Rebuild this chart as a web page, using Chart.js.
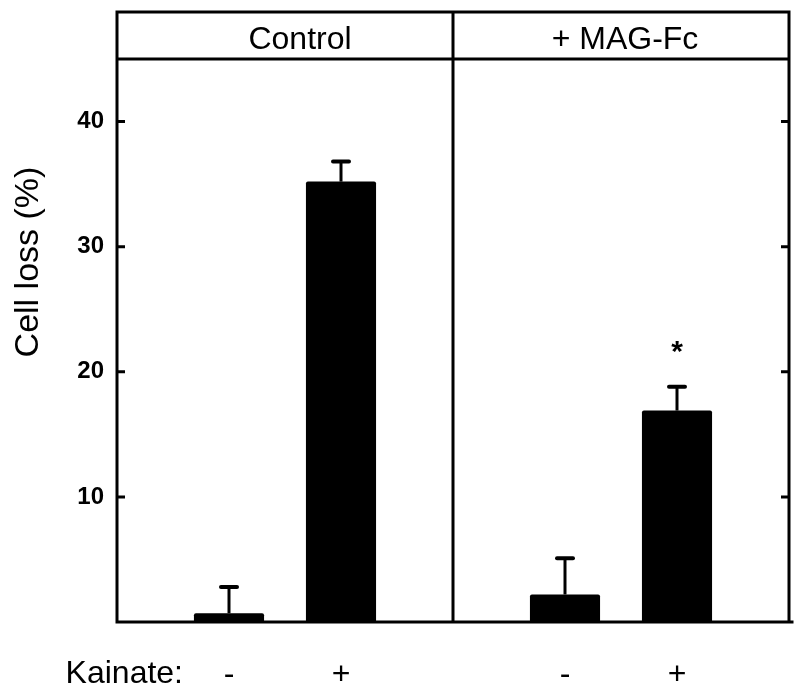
<!DOCTYPE html>
<html><head><meta charset="utf-8">
<script src="https://cdn.jsdelivr.net/npm/chart.js@4/dist/chart.umd.min.js"></script>
<style>html,body{margin:0;padding:0;background:#fff}</style>
</head><body>
<canvas id="c" width="800" height="694"></canvas>
<script>
// ---- data ----
const groups = ['Control', '+ MAG-Fc'];
const kainate = ['-', '+'];
const cellLoss = [0.7, 35.2, 2.2, 16.9];
const sem = [2.1, 1.6, 2.9, 1.9];
const significant = [false, false, false, true];
const yTicks = [10, 20, 30, 40];
const yTitle = 'Cell loss (%)';
const xTitle = 'Kainate:';

// ---- build slots: empty slot, bars of group, empty slot (shared divider) ----
const labels = [''];
const values = [null];
const errs = [null];
const stars = [false];
const dividers = [];
groups.forEach((g, gi) => {
  kainate.forEach((k, ki) => {
    const i = gi * kainate.length + ki;
    labels.push(k); values.push(cellLoss[i]); errs.push(sem[i]); stars.push(significant[i]);
  });
  labels.push(''); values.push(null); errs.push(null); stars.push(false);
  if (gi < groups.length - 1) dividers.push(labels.length - 1);
});

const FONT = "'Liberation Sans', Arial, sans-serif";

const framePlugin = {
  id: 'frame',
  afterDatasetsDraw(chart) {
    const {ctx, chartArea: a, scales: {x, y}} = chart;
    const headerTop = 12;
    ctx.save();
    ctx.strokeStyle = '#000';
    ctx.fillStyle = '#000';

    // error bars + significance
    const meta = chart.getDatasetMeta(0);
    meta.data.forEach((bar, i) => {
      if (values[i] == null) return;
      const base = y.getPixelForValue(values[i]);
      const top = y.getPixelForValue(values[i] + errs[i]);
      ctx.lineWidth = 3; ctx.lineCap = 'butt';
      ctx.beginPath(); ctx.moveTo(bar.x, base); ctx.lineTo(bar.x, top); ctx.stroke();
      ctx.lineWidth = 4; ctx.lineCap = 'round';
      ctx.beginPath(); ctx.moveTo(bar.x - 8, top); ctx.lineTo(bar.x + 8, top); ctx.stroke();
      if (stars[i]) {
        ctx.font = 'bold 30px ' + FONT;
        ctx.textAlign = 'center'; ctx.textBaseline = 'alphabetic';
        ctx.fillText('*', bar.x, top - 26);
      }
    });

    // frame lines
    ctx.lineWidth = 3; ctx.lineCap = 'square';
    ctx.beginPath();
    ctx.moveTo(a.left, headerTop); ctx.lineTo(a.right, headerTop);
    ctx.moveTo(a.left, a.top); ctx.lineTo(a.right, a.top);
    ctx.moveTo(a.left, headerTop); ctx.lineTo(a.left, a.bottom);
    ctx.moveTo(a.right, headerTop); ctx.lineTo(a.right, a.bottom);
    ctx.moveTo(a.left, a.bottom); ctx.lineTo(a.right + 3, a.bottom);
    dividers.forEach(d => {
      const px = x.getPixelForValue(d);
      ctx.moveTo(px, headerTop); ctx.lineTo(px, a.bottom);
    });
    ctx.stroke();

    // inward ticks on both sides
    ctx.lineCap = 'butt';
    ctx.beginPath();
    yTicks.forEach(v => {
      const py = y.getPixelForValue(v);
      ctx.moveTo(a.left, py); ctx.lineTo(a.left + 8, py);
      ctx.moveTo(a.right, py); ctx.lineTo(a.right - 8, py);
    });
    ctx.stroke();

    // header labels
    const bounds = [a.left, ...dividers.map(d => x.getPixelForValue(d)), a.right];
    const nudge = [15, 4];
    ctx.font = '32px ' + FONT;
    ctx.textAlign = 'center'; ctx.textBaseline = 'alphabetic';
    groups.forEach((g, gi) => {
      const cx = (bounds[gi] + bounds[gi + 1]) / 2 + nudge[gi];
      ctx.fillText(g, cx, headerTop + 37);
    });

    // axis titles
    ctx.textAlign = 'right';
    ctx.fillText(xTitle, 183, a.bottom + 61);
    ctx.save();
    ctx.font = '34px ' + FONT;
    ctx.translate(38, 262);
    ctx.rotate(-Math.PI / 2);
    ctx.textAlign = 'center';
    ctx.fillText(yTitle, 0, 0);
    ctx.restore();

    ctx.restore();
  }
};

new Chart(document.getElementById('c'), {
  type: 'bar',
  data: {
    labels: labels,
    datasets: [{
      data: values,
      backgroundColor: '#000',
      borderWidth: 0,
      borderRadius: 2,
      borderSkipped: 'bottom',
      barPercentage: 0.626,
      categoryPercentage: 1
    }]
  },
  options: {
    responsive: false,
    animation: false,
    devicePixelRatio: 1,
    layout: { padding: { top: 59, right: 11, left: 0, bottom: 0 } },
    plugins: { legend: { display: false }, tooltip: { enabled: false } },
    scales: {
      x: {
        offset: false,
        grid: { display: false, drawTicks: false },
        border: { display: false },
        ticks: { color: '#000', font: { family: FONT, size: 32 }, padding: 34, maxRotation: 0, autoSkip: false },
        afterFit(s) { s.height = 72; s.paddingLeft = 0; s.paddingRight = 0; }
      },
      y: {
        min: 0, max: 45,
        grid: { display: false, drawTicks: false },
        border: { display: false },
        ticks: {
          stepSize: 10,
          color: '#000',
          padding: 13,
          font: { family: FONT, size: 24, weight: 'bold' },
          callback: v => (yTicks.includes(v) ? v : '')
        },
        afterFit(s) { s.width = 117; s.paddingTop = 0; s.paddingBottom = 0; }
      }
    }
  },
  plugins: [framePlugin]
});
</script>
</body></html>
